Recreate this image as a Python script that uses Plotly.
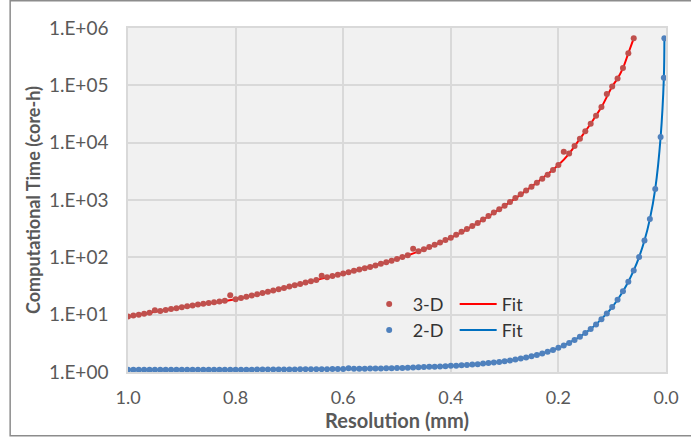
import plotly.graph_objects as go

# ---------------- data ----------------
res_3d = [1.00, 0.99, 0.98, 0.97, 0.96, 0.95, 0.94, 0.93, 0.92, 0.91,
          0.90, 0.89, 0.88, 0.87, 0.86, 0.85, 0.84, 0.83, 0.82, 0.81,
          0.80, 0.79, 0.78, 0.77, 0.76, 0.75, 0.74, 0.73, 0.72, 0.71,
          0.70, 0.69, 0.68, 0.67, 0.66, 0.65, 0.64, 0.63, 0.62, 0.61,
          0.60, 0.59, 0.58, 0.57, 0.56, 0.55, 0.54, 0.53, 0.52, 0.51,
          0.50, 0.49, 0.48, 0.47, 0.46, 0.45, 0.44, 0.43, 0.42, 0.41,
          0.40, 0.39, 0.38, 0.37, 0.36, 0.35, 0.34, 0.33, 0.32, 0.31,
          0.30, 0.29, 0.28, 0.27, 0.26, 0.25, 0.24, 0.23, 0.22, 0.21,
          0.20, 0.19, 0.18, 0.17, 0.16, 0.15, 0.14, 0.13, 0.12, 0.11,
          0.10, 0.09, 0.08, 0.07, 0.06]
time_3d = [9.33, 9.68, 10.0, 10.4, 10.8, 12.0, 11.6, 12.1, 12.5, 13.0,
           13.5, 14.0, 14.5, 15.0, 15.5, 16.0, 16.5, 17.0, 17.5, 21.9,
           18.6, 19.6, 20.6, 21.6, 22.7, 23.8, 25.1, 26.3, 27.8, 29.3,
           30.9, 32.6, 34.4, 36.3, 38.3, 40.4, 47.9, 44.8, 47.2, 49.8,
           52.5, 55.2, 58.1, 61.1, 64.3, 67.6, 72.1, 76.9, 82.0, 87.5,
           93.3, 101, 109, 141, 128, 138, 151, 166, 182, 200,
           219, 247, 278, 313, 353, 398, 457, 525, 603, 692,
           794, 927, 1080, 1260, 1470, 1710, 2000, 2340, 2750, 3350,
           4070, 6920, 6460, 8710, 11700, 15800, 21400, 29500, 41700, 70800,
           95500, 132000, 200000, 363000, 661000]

fit_res_3d = [1.00, 0.90, 0.80, 0.70, 0.60, 0.50, 0.40, 0.35, 0.30, 0.25,
              0.20, 0.18, 0.16, 0.14, 0.12, 0.10, 0.09, 0.08, 0.07, 0.06]
fit_time_3d = [9.33, 13.5, 18.6, 30.9, 52.5, 93.3, 219, 398, 794, 1710,
               4070, 6460, 11700, 21400, 41700, 95500, 132000, 200000, 363000, 661000]

res_2d = [1.00, 0.99, 0.98, 0.97, 0.96, 0.95, 0.94, 0.93, 0.92, 0.91,
          0.90, 0.89, 0.88, 0.87, 0.86, 0.85, 0.84, 0.83, 0.82, 0.81,
          0.80, 0.79, 0.78, 0.77, 0.76, 0.75, 0.74, 0.73, 0.72, 0.71,
          0.70, 0.69, 0.68, 0.67, 0.66, 0.65, 0.64, 0.63, 0.62, 0.61,
          0.60, 0.59, 0.58, 0.57, 0.56, 0.55, 0.54, 0.53, 0.52, 0.51,
          0.50, 0.49, 0.48, 0.47, 0.46, 0.45, 0.44, 0.43, 0.42, 0.41,
          0.40, 0.39, 0.38, 0.37, 0.36, 0.35, 0.34, 0.33, 0.32, 0.31,
          0.30, 0.29, 0.28, 0.27, 0.26, 0.25, 0.24, 0.23, 0.22, 0.21,
          0.20, 0.19, 0.18, 0.17, 0.16, 0.15, 0.14, 0.13, 0.12, 0.11,
          0.10, 0.09, 0.08, 0.07, 0.06, 0.05, 0.04, 0.03, 0.02, 0.01,
          0.004, 0.003]
time_2d = [1.09, 1.09, 1.09, 1.09, 1.09, 1.09, 1.09, 1.09, 1.09, 1.10,
           1.10, 1.10, 1.10, 1.10, 1.10, 1.10, 1.10, 1.10, 1.10, 1.10,
           1.10, 1.10, 1.10, 1.10, 1.11, 1.11, 1.11, 1.11, 1.11, 1.11,
           1.11, 1.11, 1.12, 1.12, 1.12, 1.12, 1.12, 1.12, 1.13, 1.13,
           1.13, 1.16, 1.14, 1.14, 1.14, 1.15, 1.15, 1.15, 1.16, 1.16,
           1.17, 1.18, 1.19, 1.20, 1.21, 1.22, 1.23, 1.24, 1.25, 1.26,
           1.28, 1.29, 1.31, 1.33, 1.35, 1.37, 1.40, 1.43, 1.46, 1.50,
           1.54, 1.59, 1.65, 1.72, 1.79, 1.88, 1.98, 2.11, 2.25, 2.43,
           2.64, 2.90, 3.22, 3.62, 4.13, 4.78, 5.64, 6.77, 8.31, 10.5,
           13.6, 18.2, 25.5, 37.5, 59.0, 101, 196, 464, 1560, 12500,
           135000, 660000]

fit_res_2d = [1.00, 0.80, 0.60, 0.50, 0.40, 0.35, 0.30, 0.25, 0.20, 0.17,
              0.15, 0.13, 0.11, 0.10, 0.09, 0.08, 0.07, 0.06, 0.05, 0.04,
              0.03, 0.02, 0.01, 0.004, 0.003]
fit_time_2d = [1.09, 1.10, 1.13, 1.17, 1.28, 1.37, 1.54, 1.88, 2.64, 3.62,
               4.78, 6.77, 10.5, 13.6, 18.2, 25.5, 37.5, 59.0, 101, 196,
               464, 1560, 12500, 135000, 660000]

x_ticks = [1.0, 0.8, 0.6, 0.4, 0.2, 0.0]
x_tick_text = ["1.0", "0.8", "0.6", "0.4", "0.2", "0.0"]
y_ticks = [1, 10, 100, 1000, 10000, 100000, 1000000]
y_tick_text = ["1.E+00", "1.E+01", "1.E+02", "1.E+03", "1.E+04", "1.E+05", "1.E+06"]

# ---------------- style ----------------
RED_DOT = "#c0504d"
RED_LINE = "#ff0000"
BLUE_DOT = "#4f81bd"
BLUE_LINE = "#0070c0"
FONT = "Lato"

fig = go.Figure()
fig.add_trace(go.Scatter(x=fit_res_3d, y=fit_time_3d, mode="lines", name="Fit",
                         line=dict(color=RED_LINE, width=2, shape="spline"),
                         legend="legend", legendrank=2))
fig.add_trace(go.Scatter(x=fit_res_2d, y=fit_time_2d, mode="lines", name="Fit",
                         line=dict(color=BLUE_LINE, width=2, shape="spline"),
                         legend="legend2", legendrank=2))
fig.add_trace(go.Scatter(x=res_3d, y=time_3d, mode="markers", name="3-D",
                         marker=dict(color=RED_DOT, size=6),
                         legend="legend", legendrank=1))
fig.add_trace(go.Scatter(x=res_2d, y=time_2d, mode="markers", name="2-D",
                         marker=dict(color=BLUE_DOT, size=6),
                         legend="legend2", legendrank=1))

L, R, T, B = 128, 22, 28, 66
W, H = 691, 440
pw, ph = W - L - R, H - T - B

def px(xp):
    return (xp - L) / pw

def py(yp):
    return (H - B - yp) / ph

legend_common = dict(orientation="h", xanchor="left", yanchor="middle",
                     bgcolor="rgba(0,0,0,0)", borderwidth=0,
                     font=dict(family=FONT, size=18, color="#333333"),
                     entrywidth=37, itemwidth=37, traceorder="normal")

fig.update_layout(
    width=W, height=H,
    margin=dict(l=L, r=R, t=T, b=B),
    paper_bgcolor="white",
    plot_bgcolor="#f1f1f1",
    showlegend=True,
    legend=dict(x=px(367), y=py(306), **legend_common),
    legend2=dict(x=px(367), y=py(332), **legend_common),
    font=dict(family=FONT, color="#595959"),
    xaxis=dict(range=[1.0, 0.0], autorange=False, tickvals=x_ticks, ticktext=x_tick_text,
               showgrid=True, gridcolor="#d9d9d9", gridwidth=1.5, zeroline=False,
               showline=True, linecolor="#d9d9d9", linewidth=1.5, mirror=True,
               ticks="", ticklabelstandoff=9,
               tickfont=dict(family=FONT, size=18, color="#595959"),
               title=dict(text="<b>Resolution (mm)</b>", standoff=6,
                          font=dict(family=FONT, size=20, color="#595959"))),
    yaxis=dict(type="log", range=[0, 6], autorange=False, tickvals=y_ticks, ticktext=y_tick_text,
               showgrid=True, gridcolor="#d9d9d9", gridwidth=1.5, zeroline=False,
               showline=True, linecolor="#d9d9d9", linewidth=1.5, mirror=True,
               ticks="", ticklabelstandoff=14,
               tickfont=dict(family=FONT, size=19, color="#595959"),
               title=dict(text="<b>Computational Time (core-h)</b>", standoff=4,
                          font=dict(family=FONT, size=18, color="#595959"))),
    shapes=[dict(type="rect", xref="paper", yref="paper",
                 x0=px(9.5), x1=px(700), y0=py(438), y1=py(0.5),
                 line=dict(color="#8c8c8c", width=1.5), fillcolor="rgba(0,0,0,0)",
                 layer="below")],
)

fig.write_html("out.html")
